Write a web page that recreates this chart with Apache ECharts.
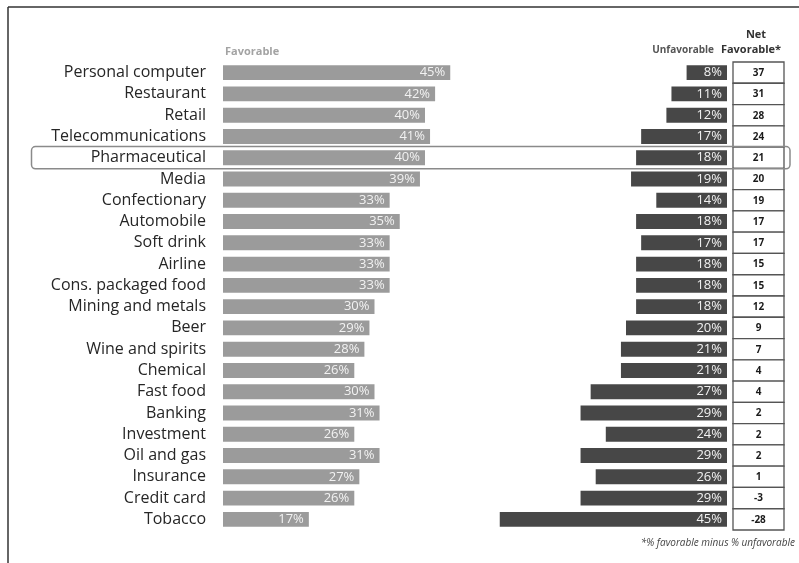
<!DOCTYPE html>
<html>
<head>
<meta charset="utf-8">
<script src="https://cdn.jsdelivr.net/npm/echarts@6/dist/echarts.min.js"></script>
<style>
  html, body { margin: 0; padding: 0; background: #fff; }
  #chart { width: 799px; height: 563px; }
</style>
</head>
<body>
<div id="chart"></div>
<script>
// Industry reputation: share of favorable vs unfavorable ratings, with net score
const industries = [
  'Personal computer', 'Restaurant', 'Retail', 'Telecommunications', 'Pharmaceutical',
  'Media', 'Confectionary', 'Automobile', 'Soft drink', 'Airline', 'Cons. packaged food',
  'Mining and metals', 'Beer', 'Wine and spirits', 'Chemical', 'Fast food', 'Banking',
  'Investment', 'Oil and gas', 'Insurance', 'Credit card', 'Tobacco'
];
const favorable = [45, 42, 40, 41, 40, 39, 33, 35, 33, 33, 33, 30, 29, 28, 26, 30, 31, 26, 31, 27, 26, 17];
const unfavorable = [8, 11, 12, 17, 18, 19, 14, 18, 17, 18, 18, 18, 20, 21, 21, 27, 29, 24, 29, 26, 29, 45];
const netFavorable = [37, 31, 28, 24, 21, 20, 19, 17, 17, 15, 15, 12, 9, 7, 4, 4, 2, 2, 2, 1, -3, -28];
const highlighted = 'Pharmaceutical';

const FONT = '"Open Sans", "Noto Sans", sans-serif';
const PX_PER_PCT = 5.05;
const SCALE_MAX = 45;
const BAR_SPAN = SCALE_MAX * PX_PER_PCT;
const TOP = 62, HEIGHT = 468;
const UNFAV_RIGHT = 727;

const chart = echarts.init(document.getElementById('chart'), null, { renderer: 'canvas' });

const hiddenValueAxis = (gridIndex, inverse) => ({
  type: 'value', gridIndex, min: 0, max: SCALE_MAX, inverse: !!inverse,
  show: false, splitLine: { show: false }
});
const categoryAxis = (gridIndex, showLabels) => ({
  type: 'category', gridIndex, data: industries, inverse: true,
  axisLine: { show: false }, axisTick: { show: false }, splitLine: { show: false },
  axisLabel: showLabels ? {
    show: true, margin: 17, fontFamily: FONT, fontSize: 16, color: '#262626'
  } : { show: false }
});

const pctLabel = {
  show: true, position: 'insideRight', distance: 5,
  formatter: p => p.value + '%',
  fontFamily: FONT, fontSize: 13, color: '#f2f2f2'
};

chart.setOption({
  animation: false,
  backgroundColor: '#ffffff',
  grid: [
    { left: 223, top: TOP, width: BAR_SPAN, height: HEIGHT, outerBoundsMode: 'none' },
    { left: UNFAV_RIGHT - BAR_SPAN, top: TOP, width: BAR_SPAN, height: HEIGHT, outerBoundsMode: 'none' },
    { left: 733, top: TOP, width: 51, height: HEIGHT, outerBoundsMode: 'none' }
  ],
  xAxis: [
    hiddenValueAxis(0, false),
    hiddenValueAxis(1, true),
    { type: 'value', gridIndex: 2, min: 0, max: 1, show: false, splitLine: { show: false } }
  ],
  yAxis: [categoryAxis(0, true), categoryAxis(1, false), categoryAxis(2, false)],
  series: [
    {
      name: 'Favorable', type: 'bar', xAxisIndex: 0, yAxisIndex: 0,
      data: favorable, barCategoryGap: '30%',
      itemStyle: { color: '#9b9b9b' },
      label: pctLabel
    },
    {
      name: 'Unfavorable', type: 'bar', xAxisIndex: 1, yAxisIndex: 1,
      data: unfavorable, barCategoryGap: '30%',
      itemStyle: { color: '#474747' },
      label: pctLabel
    },
    {
      name: 'Net favorable', type: 'custom', xAxisIndex: 2, yAxisIndex: 2,
      data: netFavorable.map((v, i) => [0, i, v]),
      encode: { x: 0, y: 1 },
      renderItem: (params, api) => {
        const p0 = api.coord([0, api.value(1)]);
        const p1 = api.coord([1, api.value(1)]);
        const h = api.size([0, 1])[1];
        return {
          type: 'group',
          children: [
            {
              type: 'rect',
              shape: { x: p0[0], y: p0[1] - h / 2, width: p1[0] - p0[0], height: h },
              style: { fill: '#fff', stroke: '#555', lineWidth: 1.3 }
            },
            {
              type: 'text',
              style: {
                text: String(api.value(2)), x: (p0[0] + p1[0]) / 2, y: p0[1] + 0.5,
                align: 'center', verticalAlign: 'middle',
                font: 'bold 10px ' + FONT, fill: '#1a1a1a'
              }
            }
          ]
        };
      }
    }
  ]
});

// Frame, column headings, footnote and the highlight around one industry row
const rowY = chart.convertToPixel({ yAxisIndex: 0 }, highlighted);
const rowH = HEIGHT / industries.length;
chart.setOption({
  graphic: [
    { type: 'line', shape: { x1: 8, y1: 7, x2: 799, y2: 7 }, style: { stroke: '#333', lineWidth: 1.5 } },
    { type: 'line', shape: { x1: 8, y1: 7, x2: 8, y2: 563 }, style: { stroke: '#333', lineWidth: 1.5 } },
    {
      type: 'rect', shape: { x: 31.5, y: rowY - rowH / 2 - 0.5, width: 758.5, height: rowH + 1, r: 4 },
      style: { fill: 'none', stroke: '#8a8a8a', lineWidth: 1.5 }, z: 10
    },
    {
      type: 'text', x: 225, y: 52,
      style: { text: 'Favorable', font: 'bold 11px ' + FONT, fill: '#a3a3a3', verticalAlign: 'middle' }
    },
    {
      type: 'text', x: 714, y: 50,
      style: { text: 'Unfavorable', font: 'bold 10px ' + FONT, fill: '#555', align: 'right', verticalAlign: 'middle' }
    },
    {
      type: 'text', x: 756, y: 35,
      style: { text: 'Net', font: 'bold 11px ' + FONT, fill: '#333', align: 'center', verticalAlign: 'middle' }
    },
    {
      type: 'text', x: 751, y: 50,
      style: { text: 'Favorable*', font: 'bold 11px ' + FONT, fill: '#333', align: 'center', verticalAlign: 'middle' }
    },
    {
      type: 'text', x: 795, y: 543,
      style: { text: '*% favorable minus % unfavorable', font: 'italic 10px ' + FONT, fill: '#444', align: 'right', verticalAlign: 'middle' }
    }
  ]
});
</script>
</body>
</html>
